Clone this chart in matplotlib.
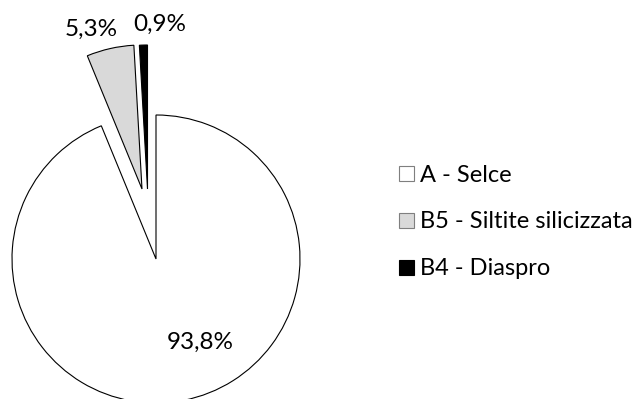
import matplotlib
matplotlib.use('Agg')
import matplotlib.pyplot as plt

plt.rcParams['font.family'] = ['Lato', 'DejaVu Sans']

labels = ['A - Selce', 'B5 - Siltite silicizzata', 'B4 - Diaspro']
values = [93.8, 5.3, 0.9]
pct_labels = ['93,8%', '5,3%', '0,9%']
colors = ['#ffffff', '#d9d9d9', '#000000']

# figure in pixel units so the pie geometry is easy to place
fig = plt.figure(figsize=(6.41, 3.99), dpi=100)
ax = fig.add_axes([0, 0, 1, 1])

wedges, _ = ax.pie(values, colors=colors, startangle=90, counterclock=False,
                   radius=144, center=(156, 140),
                   wedgeprops={'edgecolor': 'black', 'linewidth': 0.8})
# exploded slices, offset as in the original
wedges[1].set_center((142, 210))
wedges[2].set_center((147.5, 210))

ax.set_xlim(0, 641)
ax.set_ylim(0, 399)
ax.set_aspect('equal')
ax.axis('off')

label_pos = [(200, 57), (91, 370), (160, 375)]
for txt, (x, y) in zip(pct_labels, label_pos):
    ax.text(x, y, txt, ha='center', va='center', fontsize=17.5)

handles = []
for w, ec in zip(wedges, ['#7f7f7f', '#7f7f7f', 'black']):
    handles.append(plt.Rectangle((0, 0), 1, 1, facecolor=w.get_facecolor(),
                                 edgecolor=ec, linewidth=0.8))

fig.legend(handles, labels, loc='center left', bbox_to_anchor=(399 / 641, 1 - 222 / 399),
           frameon=False, fontsize=17, handlelength=0.62, handleheight=0.62,
           handletextpad=0.25, labelspacing=1.1, borderaxespad=0, borderpad=0)

fig.savefig('out.png', dpi=100)
